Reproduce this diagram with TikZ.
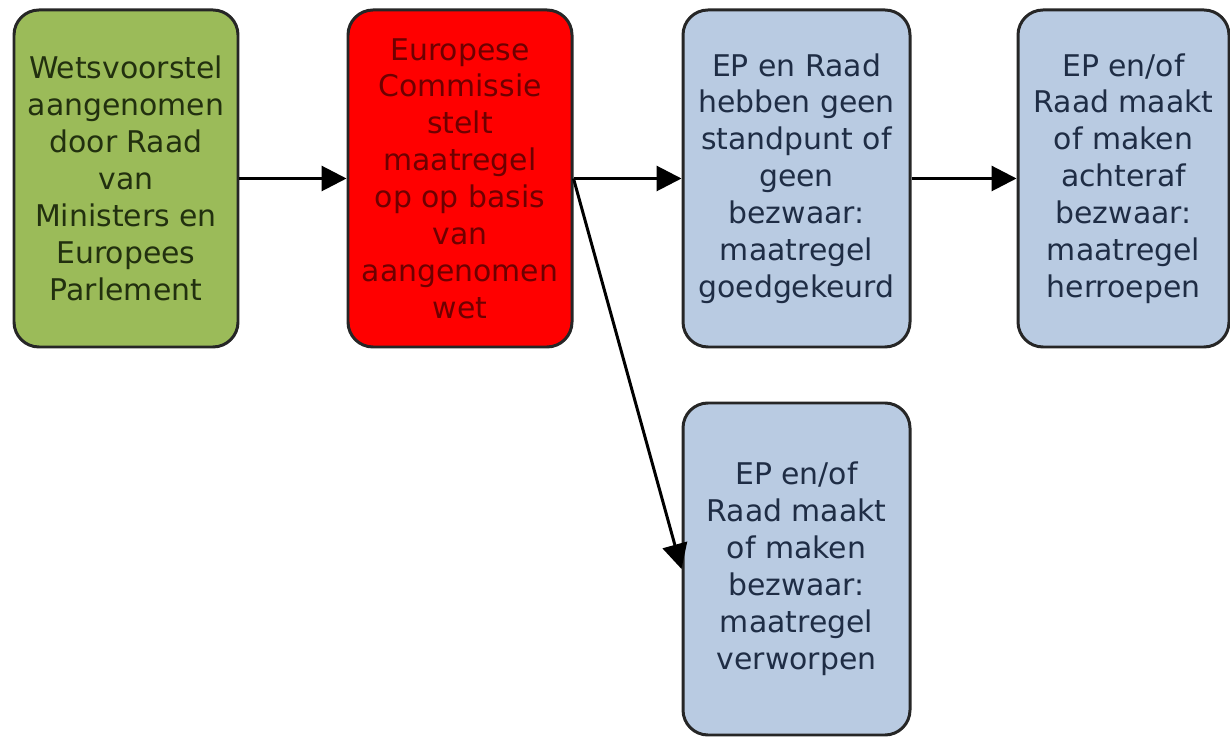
\documentclass[tikz,border=0pt]{standalone}
\usepackage{fontspec}
\setmainfont{DejaVu Sans}
\usetikzlibrary{arrows.meta}
\definecolor{boxgreen}{HTML}{9BBB59}
\definecolor{boxred}{HTML}{FF0000}
\definecolor{boxblue}{HTML}{B9CBE2}
\definecolor{txtgreen}{HTML}{22300F}
\definecolor{txtred}{HTML}{6E0000}
\definecolor{txtblue}{HTML}{1F2D45}
\tikzset{
  stap/.style={draw=black!85, line width=1.7pt, rounded corners=0.5cm,
    align=center, inner sep=0pt, minimum width=4.48cm, minimum height=6.74cm,
    font=\fontsize{17}{21}\selectfont},
  pijl/.style={->, black, line width=1.7pt, >={Triangle[length=5mm,width=5mm]}}
}
\begin{document}
\begin{tikzpicture}
\useasboundingbox (0,0) rectangle (24.6,14.72);

\node[stap, fill=boxgreen, text=txtgreen] (W) at (2.52,11.15)
  {Wetsvoorstel\\aangenomen\\door Raad\\van\\Ministers en\\Europees\\Parlement};
\node[stap, fill=boxred, text=txtred] (C) at (9.2,11.15)
  {Europese\\Commissie\\stelt\\maatregel\\op op basis\\van\\aangenomen\\wet};
\node[stap, fill=boxblue, text=txtblue, minimum width=4.54cm] (G) at (15.93,11.15)
  {EP en Raad\\hebben geen\\standpunt of\\geen\\bezwaar:\\maatregel\\goedgekeurd};
\node[stap, fill=boxblue, text=txtblue, minimum width=4.22cm] (H) at (22.47,11.15)
  {EP en/of\\Raad maakt\\of maken\\achteraf\\bezwaar:\\maatregel\\herroepen};
\node[stap, fill=boxblue, text=txtblue, minimum width=4.54cm, minimum height=6.64cm] (V) at (15.93,3.34)
  {EP en/of\\Raad maakt\\of maken\\bezwaar:\\maatregel\\verworpen};

\path[pijl] (W) edge (C);
\path[pijl] (C) edge (G);
\path[pijl] (G) edge (H);
\path[pijl] (C.east) edge (V.west);

\end{tikzpicture}
\end{document}
